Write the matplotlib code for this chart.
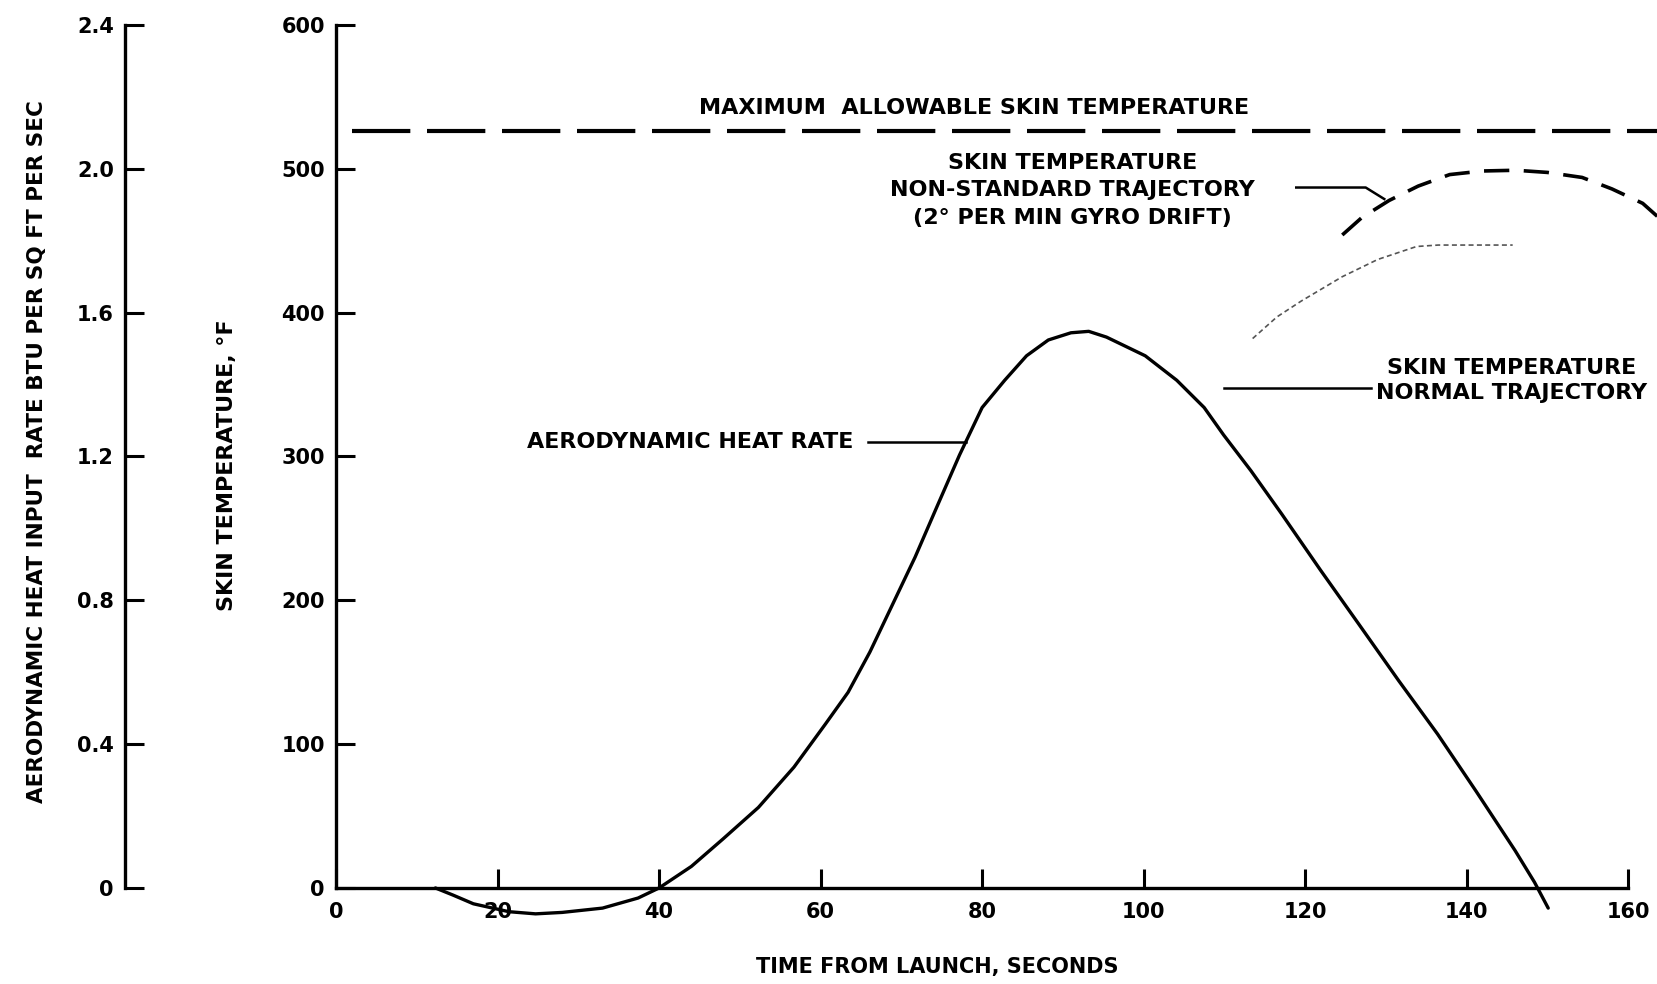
import matplotlib
matplotlib.use("Agg")
import matplotlib.pyplot as plt

# aerodynamic heat rate, drawn against the skin temperature scale (deg F)
time_s = [12.3, 14.5, 17, 21.4, 24.7, 28, 33, 37.4, 40, 44, 47.9, 52.3, 56.7,
          60.6, 63.4, 66.1, 68.9, 71.7, 74.4, 77.2, 80, 82.8, 85.5, 88.2, 91,
          93.2, 95.4, 100.2, 104.1, 107.5, 109.9, 113.3, 117.1, 121.9, 126.7,
          131.6, 136.4, 141.2, 146, 148.4, 150.1]
heat_curve = [0, -5, -11, -16.5, -18, -17, -14, -7, 0, 15, 34, 56, 84, 114,
              136, 164, 197, 230, 265, 301, 334, 353, 370, 381, 386, 387, 383,
              370, 353, 334, 315, 290, 260, 221, 183, 144, 107, 67, 26, 4, -14]

# skin temperature, non-standard trajectory (2 deg per min gyro drift)
nonstd_t = [124.6, 127, 130.4, 134, 137.9, 142, 146.1, 150, 154.3, 158,
            161.8, 163.6]
nonstd_temp = [454, 466, 478, 488, 496, 498.5, 499, 497.5, 494, 486, 476, 467]

# skin temperature, normal trajectory (faint on the original)
normal_t = [113.5, 116.5, 119.5, 124.6, 129, 133.8, 136.5, 139.1, 145.7]
normal_temp = [382, 397, 408, 425, 437, 446, 447, 447, 447]

max_skin_temp = 526

temp_ticks = [0, 100, 200, 300, 400, 500, 600]
rate_ticks = [0, 0.4, 0.8, 1.2, 1.6, 2.0, 2.4]
rate_labels = ["0", "0.4", "0.8", "1.2", "1.6", "2.0", "2.4"]
time_ticks = [0, 20, 40, 60, 80, 100, 120, 140, 160]

plt.rcParams["font.family"] = ["DejaVu Sans"]
plt.rcParams["font.weight"] = "bold"

fig = plt.figure(figsize=(16.58, 9.84), dpi=100)
ax = fig.add_axes([0.2027, 0.0976, 0.7793, 0.8770])

ax.set_xlim(0, 160)
ax.set_ylim(0, 600)
for side in ["top", "right"]:
    ax.spines[side].set_visible(False)
for side in ["left", "bottom"]:
    ax.spines[side].set_linewidth(2.4)

ax.set_xticks(time_ticks)
ax.set_yticks(temp_ticks)
ax.tick_params(axis="both", direction="in", length=14, width=2.2,
               labelsize=15)
ax.tick_params(axis="x", pad=10)
ax.tick_params(axis="y", pad=8)

# left-hand heat rate scale
ax2 = ax.twinx()
ax2.set_ylim(0, 2.4)
for side in ["top", "right", "bottom"]:
    ax2.spines[side].set_visible(False)
ax2.spines["left"].set_visible(True)
ax2.spines["left"].set_position(("axes", -0.1633))
ax2.spines["left"].set_linewidth(2.4)
ax2.yaxis.set_ticks_position("left")
ax2.yaxis.set_label_position("left")
ax2.set_yticks(rate_ticks)
ax2.set_yticklabels(rate_labels)
ax2.tick_params(axis="y", direction="in", length=14, width=2.2,
                labelsize=15, pad=8)

# curves
ax.plot(time_s, heat_curve, color="black", lw=2.4, clip_on=False,
        solid_capstyle="round", solid_joinstyle="round")
ax.plot([2, 164], [max_skin_temp, max_skin_temp], color="black", lw=3,
        dashes=(14, 4), clip_on=False)
ax.plot(nonstd_t, nonstd_temp, color="black", lw=2.6, dashes=(7, 4),
        clip_on=False)
ax.plot(normal_t, normal_temp, color="#555555", lw=1.2, dashes=(3, 2),
        clip_on=False)

# leader lines
ax.plot([65.9, 78], [310, 310], color="black", lw=1.8)
ax.plot([118.9, 127.5, 129.8], [487, 487, 479], color="black", lw=1.8)
ax.plot([109.9, 128.2], [347.5, 347.5], color="black", lw=1.8)

# labels
txt = dict(fontsize=16, fontweight="bold", color="black")
ax.text(79, 542, "MAXIMUM  ALLOWABLE SKIN TEMPERATURE", ha="center",
        va="center", **txt)
ax.text(91.2, 485,
        "SKIN TEMPERATURE\nNON-STANDARD TRAJECTORY\n(2\u00b0 PER MIN GYRO DRIFT)",
        ha="center", va="center", linespacing=1.45, **txt)
ax.text(145.6, 353, "SKIN TEMPERATURE\nNORMAL TRAJECTORY", ha="center",
        va="center", linespacing=1.3, clip_on=False, **txt)
ax.text(43.9, 310, "AERODYNAMIC HEAT RATE", ha="center", va="center", **txt)

ax.set_xlabel("TIME FROM LAUNCH, SECONDS", fontsize=15, fontweight="bold")
ax.xaxis.set_label_coords(74.5 / 160, -0.0915)
ax.xaxis.label.set_va("center")
ax.set_ylabel("SKIN TEMPERATURE, \u00b0F", fontsize=16, fontweight="bold")
ax.yaxis.set_label_coords(-0.0844, 0.49)
ax.yaxis.label.set_va("center")
ax2.set_ylabel("AERODYNAMIC HEAT INPUT  RATE BTU PER SQ FT PER SEC",
               fontsize=15.5, fontweight="bold")
ax2.yaxis.set_label_coords(-0.2314, 0.506)
ax2.yaxis.label.set_va("center")

fig.savefig("out.png", dpi=100)
